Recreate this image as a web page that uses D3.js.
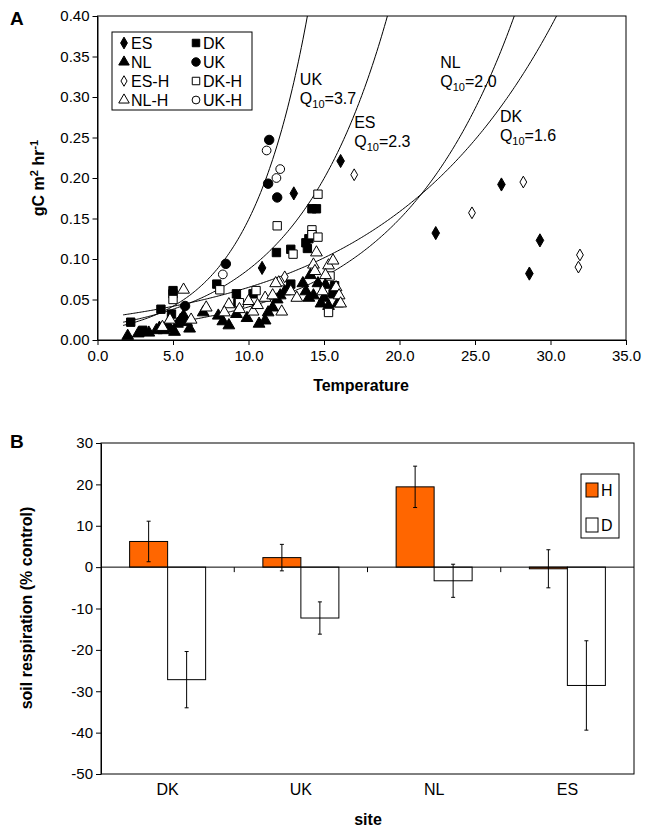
<!DOCTYPE html>
<html><head><meta charset="utf-8">
<script src="https://cdn.jsdelivr.net/npm/d3@7"></script>
<style>body{margin:0;background:#fff}svg{font-family:"Liberation Sans",Arial,sans-serif}</style>
</head><body><svg id="c" width="646" height="830"></svg>
<script>
// panel A data: [temperature, flux]
const ES   = [[16.1,.221],[13.0,.181],[10.9,.089],[26.75,.192],[22.4,.132],[29.3,.123],[28.6,.082]];
const ES_H = [[17.0,.204],[12.4,.078],[24.8,.157],[28.2,.195],[31.95,.105],[31.85,.090]];
const DK   = [[14.5,.162],[14.2,.162],[11.85,.108],[12.8,.112],[13.8,.12],[14.0,.125],[13.9,.113],[7.9,.069],[12.8,.069],
              [5.0,.061],[5.0,.057],[4.2,.038],[4.9,.032],[9.2,.057],[9.3,.046],[10.3,.057],[15.7,.067],[15.6,.057],[2.2,.022],[3.0,.012]];
const DK_H = [[14.6,.180],[11.9,.141],[14.2,.136],[14.2,.130],[14.6,.127],[12.95,.106],[8.1,.062],[5.0,.050],[15.4,.079],
              [15.3,.034],[10.5,.061],[9.4,.046]];
const NL   = [[2.0,.005],[2.7,.008],[3.4,.009],[3.9,.012],[4.1,.015],[4.4,.012],[4.6,.018],[4.8,.014],[5.1,.010],[5.3,.020],
              [5.5,.025],[5.7,.030],[5.9,.022],[6.1,.014],[7.0,.034],[8.0,.030],[8.3,.023],[8.7,.018],[9.2,.032],[9.9,.027],
              [10.7,.020],[11.1,.024],[11.3,.034],[11.6,.040],[11.9,.050],[12.1,.055],[12.4,.060],[12.6,.062],[13.6,.070],
              [13.8,.060],[14.1,.080],[14.3,.055],[14.6,.070],[14.8,.045],[15.0,.052],[15.1,.068],[15.3,.042],[15.6,.058],
              [15.9,.045],[14.0,.052]];
const NL_H = [[5.7,.062],[4.3,.016],[4.8,.025],[6.2,.025],[8.7,.044],[8.4,.034],[9.4,.038],[10.3,.035],[10.6,.043],[11.1,.052],
              [11.6,.055],[12.0,.071],[12.2,.035],[12.8,.060],[11.8,.070],[14.3,.093],[14.5,.108],[14.4,.085],[15.3,.092],
              [15.6,.098],[15.1,.080],[15.8,.065],[16.0,.055],[16.1,.045],[14.9,.060],[13.2,.052],[10.0,.048],[7.2,.040]];
const UK   = [[11.37,.247],[11.3,.193],[11.9,.176],[8.5,.094],[5.8,.042]];
const UK_H = [[11.2,.234],[11.85,.200],[12.1,.211],[8.3,.081]];

// fitted exponential curves, each through two read anchor points [T, flux]
const curveAnchors = [[[1.7,.018],[13.9,.40]],[[1.7,.022],[19.2,.40]],[[5.8,.0237],[27.6,.40]],[[1.7,.031],[30.4,.40]]];
const curveLabels  = [["UK","3.7"],["ES","2.3"],["NL","2.0"],["DK","1.6"]];
const curveLabelAt = [[13.4,.315],[17.0,.262],[22.7,.336],[26.65,.269]];

// panel B data
const sites = ["DK","UK","NL","ES"];
const hVals = [6.2,2.3,19.4,-0.4];
const hErr  = [4.9,3.2,5.0,4.6];
const dVals = [-27.2,-12.3,-3.3,-28.6];
const dErr  = [6.8,3.9,4.0,10.8];

const svg = d3.select("#c");

// ---------- panel A ----------
const xA = d3.scaleLinear().domain([0,35]).range([97.5,626]);
const yA = d3.scaleLinear().domain([0,0.4]).range([340,16]);
const gA = svg.append("g");
gA.append("rect").attr("x",97.5).attr("y",16).attr("width",528.5).attr("height",324)
  .attr("fill","none").attr("stroke","#000");
gA.append("g").attr("transform","translate(0,340)")
  .call(d3.axisBottom(xA).tickValues(d3.range(0,36,5)).tickFormat(d3.format(".1f")).tickSize(5).tickSizeOuter(0))
  .call(g=>g.selectAll("text").attr("font-size",15).attr("dy","0.85em"));
gA.append("g").attr("transform","translate(97.5,0)")
  .call(d3.axisLeft(yA).tickValues(d3.range(0,0.41,0.05)).tickFormat(d3.format(".2f")).tickSize(5).tickSizeOuter(0))
  .call(g=>g.selectAll("text").attr("font-size",15));
gA.selectAll(".domain").attr("stroke","#000");

gA.append("defs").append("clipPath").attr("id","clipA").append("rect")
  .attr("x",97.5).attr("y",16).attr("width",528.5).attr("height",324);
const line = d3.line().x(d=>xA(d[0])).y(d=>yA(d[1]));
curveAnchors.forEach(([p0,p1])=>{
  const k = Math.log(p1[1]/p0[1])/(p1[0]-p0[0]);
  const pts = d3.range(p0[0], p1[0]+0.2, 0.1).map(t=>[t, p0[1]*Math.exp(k*(t-p0[0]))]);
  gA.append("path").attr("d",line(pts)).attr("fill","none").attr("stroke","#000")
    .attr("stroke-width",1).attr("clip-path","url(#clipA)");
});
curveLabels.forEach((l,i)=>{
  const x = xA(curveLabelAt[i][0]), y = yA(curveLabelAt[i][1]);
  gA.append("text").attr("x",x).attr("y",y).attr("font-size",16).text(l[0]);
  const t = gA.append("text").attr("x",x).attr("y",y+19).attr("font-size",16);
  t.append("tspan").text("Q");
  t.append("tspan").attr("font-size",11).attr("dy",4).text("10");
  t.append("tspan").attr("dy",-4).text("="+l[1]);
});

const sym = {
  diamond: d3.symbol().type(d3.symbolDiamond),
  square: d3.symbol().type(d3.symbolSquare),
  triangle: d3.symbol().type(d3.symbolTriangle),
  circle: d3.symbol().type(d3.symbolCircle)
};
const series = [
  {name:"ES",data:ES,s:"diamond",fill:true,size:50},
  {name:"DK",data:DK,s:"square",fill:true,size:70},
  {name:"NL",data:NL,s:"triangle",fill:true,size:60},
  {name:"UK",data:UK,s:"circle",fill:true,size:70},
  {name:"ES-H",data:ES_H,s:"diamond",fill:false,size:40},
  {name:"DK-H",data:DK_H,s:"square",fill:false,size:70},
  {name:"NL-H",data:NL_H,s:"triangle",fill:false,size:60},
  {name:"UK-H",data:UK_H,s:"circle",fill:false,size:60}
];
series.forEach(se=>{
  gA.append("g").selectAll("path").data(se.data).join("path")
    .attr("transform",d=>`translate(${xA(d[0])},${yA(d[1])})`)
    .attr("d",sym[se.s].size(se.size)())
    .attr("fill",se.fill?"#000":"#fff").attr("stroke","#000").attr("stroke-width",1);
});
// legend
gA.append("rect").attr("x",112).attr("y",32).attr("width",140).attr("height",78)
  .attr("fill","#fff").attr("stroke","#000");
const legOrder = ["ES","DK","NL","UK","ES-H","DK-H","NL-H","UK-H"];
legOrder.forEach((n,i)=>{
  const se = series.find(s=>s.name===n);
  const col = i%2, row = Math.floor(i/2);
  const x = 124 + col*72, y = 43 + row*19;
  gA.append("path").attr("transform",`translate(${x},${y})`)
    .attr("d",sym[se.s].size(se.size*0.8)())
    .attr("fill",se.fill?"#000":"#fff").attr("stroke","#000");
  gA.append("text").attr("x",x+7).attr("y",y+6).attr("font-size",16).text(n);
});
gA.append("text").attr("x",10).attr("y",25).attr("font-size",19).attr("font-weight","bold").text("A");
const yt = gA.append("text").attr("transform","translate(44,178) rotate(-90)").attr("text-anchor","middle")
  .attr("font-size",16).attr("font-weight","bold");
yt.append("tspan").text("gC m");
yt.append("tspan").attr("font-size",11).attr("dy",-6).text("2");
yt.append("tspan").attr("dy",6).text(" hr");
yt.append("tspan").attr("font-size",11).attr("dy",-6).text("-1");
gA.append("text").attr("x",361).attr("y",391).attr("text-anchor","middle").attr("font-size",16)
  .attr("font-weight","bold").text("Temperature");

// ---------- panel B ----------
const xB = d3.scaleBand().domain(sites).range([101,634]);
const yB = d3.scaleLinear().domain([-50,30]).range([774,443]);
const gB = svg.append("g");
gB.append("rect").attr("x",101).attr("y",443).attr("width",533).attr("height",331)
  .attr("fill","none").attr("stroke","#000");
gB.append("g").attr("transform","translate(101,0)")
  .call(d3.axisLeft(yB).tickValues(d3.range(-50,31,10)).tickFormat(d=>String(d)).tickSize(5).tickSizeOuter(0))
  .call(g=>g.selectAll("text").attr("font-size",15));
gB.append("g").attr("transform","translate(0,774)")
  .call(d3.axisBottom(xB).tickSize(0).tickSizeOuter(0))
  .call(g=>g.select(".domain").remove())
  .call(g=>g.selectAll("text").attr("font-size",16).attr("dy","1.1em"));
const bw = 38;
sites.forEach((s,i)=>{
  const c = xB(s)+xB.bandwidth()/2;
  [[hVals[i],hErr[i],c-bw,"#ff6600"],[dVals[i],dErr[i],c,"#fff"]].forEach(([v,e,x,f])=>{
    gB.append("rect").attr("x",x).attr("width",bw).attr("y",yB(Math.max(0,v)))
      .attr("height",Math.abs(yB(v)-yB(0))).attr("fill",f).attr("stroke","#000").attr("stroke-width",1);
    const ex = x+bw/2;
    gB.append("line").attr("x1",ex).attr("x2",ex).attr("y1",yB(v+e)).attr("y2",yB(v-e)).attr("stroke","#000");
    [v+e,v-e].forEach(w=>gB.append("line").attr("x1",ex-2).attr("x2",ex+2).attr("y1",yB(w)).attr("y2",yB(w)).attr("stroke","#000"));
  });
});
gB.append("line").attr("x1",101).attr("x2",634).attr("y1",yB(0)).attr("y2",yB(0)).attr("stroke","#000");
xB.domain().slice(1).forEach(s=>gB.append("line").attr("x1",xB(s)).attr("x2",xB(s))
  .attr("y1",yB(0)).attr("y2",yB(0)+5).attr("stroke","#000"));
// legend B
gB.append("rect").attr("x",581).attr("y",474).attr("width",38).attr("height",64).attr("fill","#fff").attr("stroke","#000");
[["H","#ff6600"],["D","#fff"]].forEach(([n,f],i)=>{
  gB.append("rect").attr("x",586).attr("y",483+i*35).attr("width",12).attr("height",14).attr("fill",f).attr("stroke","#000");
  gB.append("text").attr("x",601).attr("y",496+i*35).attr("font-size",16).text(n);
});
gB.append("text").attr("x",10).attr("y",448).attr("font-size",19).attr("font-weight","bold").text("B");
gB.append("text").attr("transform","translate(32,608) rotate(-90)").attr("text-anchor","middle")
  .attr("font-size",16).attr("font-weight","bold").text("soil respiration (% control)");
gB.append("text").attr("x",368).attr("y",825).attr("text-anchor","middle").attr("font-size",16)
  .attr("font-weight","bold").text("site");
</script></body></html>
